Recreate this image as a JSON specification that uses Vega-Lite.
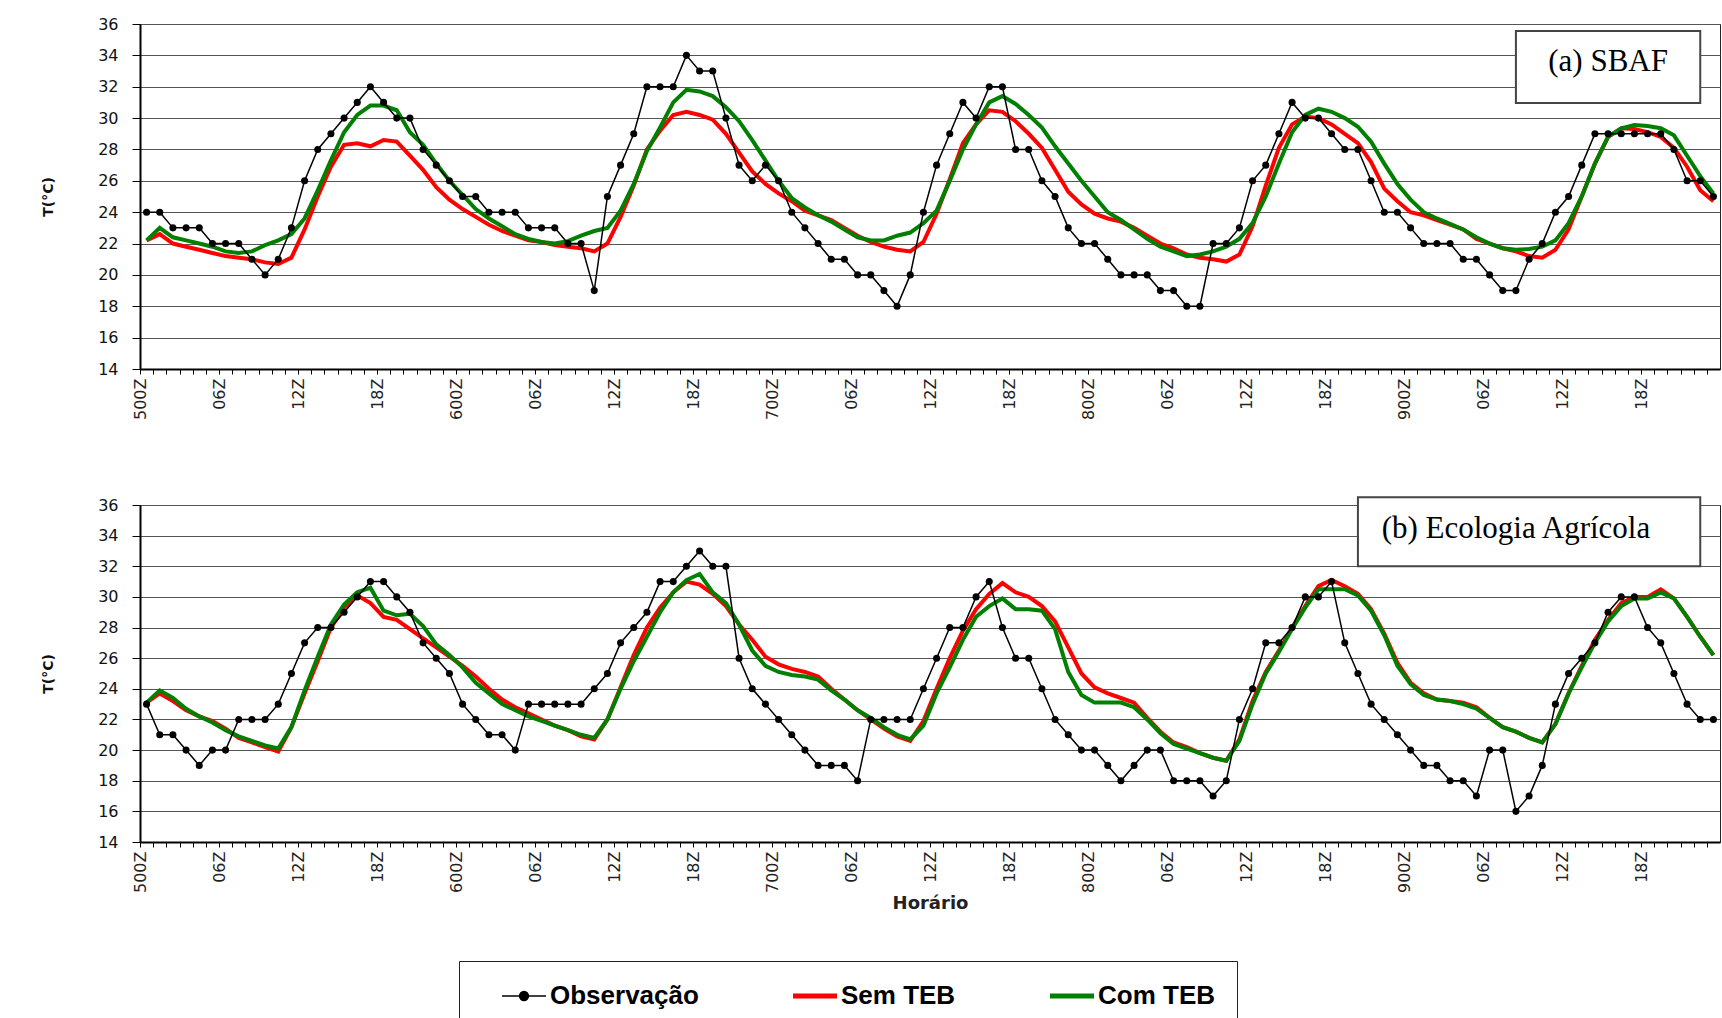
{
  "$schema": "https://vega.github.io/schema/vega-lite/v6.json",
  "background": "white",
  "autosize": {"type": "pad"},
  "padding": {"left": 41, "top": 15, "right": 2, "bottom": 0},
  "bounds": "flush",
  "spacing": 136,
  "datasets": {
    "a": [
      {"h":0,"obs":24,"sem":22.2,"com":22.2},{"h":1,"obs":24,"sem":22.6,"com":23.0},{"h":2,"obs":23,"sem":22.0,"com":22.4},{"h":3,"obs":23,"sem":21.8,"com":22.2},{"h":4,"obs":23,"sem":21.6,"com":22.0},
      {"h":5,"obs":22,"sem":21.4,"com":21.8},{"h":6,"obs":22,"sem":21.2,"com":21.5},{"h":7,"obs":22,"sem":21.1,"com":21.4},{"h":8,"obs":21,"sem":21.0,"com":21.5},{"h":9,"obs":20,"sem":20.8,"com":21.9},
      {"h":10,"obs":21,"sem":20.7,"com":22.2},{"h":11,"obs":23,"sem":21.1,"com":22.6},{"h":12,"obs":26,"sem":22.9,"com":23.6},{"h":13,"obs":28,"sem":25.0,"com":25.4},{"h":14,"obs":29,"sem":26.9,"com":27.3},
      {"h":15,"obs":30,"sem":28.3,"com":29.1},{"h":16,"obs":31,"sem":28.4,"com":30.2},{"h":17,"obs":32,"sem":28.2,"com":30.8},{"h":18,"obs":31,"sem":28.6,"com":30.8},{"h":19,"obs":30,"sem":28.5,"com":30.5},
      {"h":20,"obs":30,"sem":27.6,"com":29.1},{"h":21,"obs":28,"sem":26.7,"com":28.3},{"h":22,"obs":27,"sem":25.6,"com":27.1},{"h":23,"obs":26,"sem":24.8,"com":26.0},{"h":24,"obs":25,"sem":24.2,"com":25.1},
      {"h":25,"obs":25,"sem":23.7,"com":24.2},{"h":26,"obs":24,"sem":23.2,"com":23.6},{"h":27,"obs":24,"sem":22.8,"com":23.1},{"h":28,"obs":24,"sem":22.5,"com":22.6},{"h":29,"obs":23,"sem":22.2,"com":22.3},
      {"h":30,"obs":23,"sem":22.1,"com":22.1},{"h":31,"obs":23,"sem":21.9,"com":22.0},{"h":32,"obs":22,"sem":21.8,"com":22.15},{"h":33,"obs":22,"sem":21.7,"com":22.5},{"h":34,"obs":19,"sem":21.5,"com":22.8},
      {"h":35,"obs":25,"sem":22.0,"com":23.0},{"h":36,"obs":27,"sem":23.7,"com":24.1},{"h":37,"obs":29,"sem":25.7,"com":25.8},{"h":38,"obs":32,"sem":28.0,"com":27.9},{"h":39,"obs":32,"sem":29.2,"com":29.4},
      {"h":40,"obs":32,"sem":30.2,"com":31.0},{"h":41,"obs":34,"sem":30.4,"com":31.8},{"h":42,"obs":33,"sem":30.2,"com":31.7},{"h":43,"obs":33,"sem":29.9,"com":31.4},{"h":44,"obs":30,"sem":29.0,"com":30.7},
      {"h":45,"obs":27,"sem":27.8,"com":29.8},{"h":46,"obs":26,"sem":26.6,"com":28.6},{"h":47,"obs":27,"sem":25.8,"com":27.3},{"h":48,"obs":26,"sem":25.2,"com":26.0},{"h":49,"obs":24,"sem":24.7,"com":24.9},
      {"h":50,"obs":23,"sem":24.1,"com":24.3},{"h":51,"obs":22,"sem":23.8,"com":23.8},{"h":52,"obs":21,"sem":23.5,"com":23.4},{"h":53,"obs":21,"sem":23.0,"com":22.9},{"h":54,"obs":20,"sem":22.5,"com":22.4},
      {"h":55,"obs":20,"sem":22.1,"com":22.2},{"h":56,"obs":19,"sem":21.8,"com":22.2},{"h":57,"obs":18,"sem":21.6,"com":22.5},{"h":58,"obs":20,"sem":21.5,"com":22.7},{"h":59,"obs":24,"sem":22.1,"com":23.3},
      {"h":60,"obs":27,"sem":23.9,"com":24.1},{"h":61,"obs":29,"sem":26.1,"com":26.0},{"h":62,"obs":31,"sem":28.4,"com":28.0},{"h":63,"obs":30,"sem":29.6,"com":29.6},{"h":64,"obs":32,"sem":30.5,"com":31.0},
      {"h":65,"obs":32,"sem":30.4,"com":31.4},{"h":66,"obs":28,"sem":29.8,"com":30.9},{"h":67,"obs":28,"sem":29.0,"com":30.2},{"h":68,"obs":26,"sem":28.1,"com":29.4},{"h":69,"obs":25,"sem":26.7,"com":28.2},
      {"h":70,"obs":23,"sem":25.3,"com":27.1},{"h":71,"obs":22,"sem":24.5,"com":26.0},{"h":72,"obs":22,"sem":23.9,"com":25.0},{"h":73,"obs":21,"sem":23.6,"com":24.0},{"h":74,"obs":20,"sem":23.4,"com":23.5},
      {"h":75,"obs":20,"sem":23.0,"com":22.9},{"h":76,"obs":20,"sem":22.5,"com":22.3},{"h":77,"obs":19,"sem":22.0,"com":21.8},{"h":78,"obs":19,"sem":21.7,"com":21.5},{"h":79,"obs":18,"sem":21.3,"com":21.2},
      {"h":80,"obs":18,"sem":21.1,"com":21.3},{"h":81,"obs":22,"sem":21.0,"com":21.5},{"h":82,"obs":22,"sem":20.85,"com":21.8},{"h":83,"obs":23,"sem":21.3,"com":22.3},{"h":84,"obs":26,"sem":23.1,"com":23.3},
      {"h":85,"obs":27,"sem":25.7,"com":25.0},{"h":86,"obs":29,"sem":28.1,"com":27.1},{"h":87,"obs":31,"sem":29.6,"com":29.1},{"h":88,"obs":30,"sem":30.1,"com":30.2},{"h":89,"obs":30,"sem":30.0,"com":30.6},
      {"h":90,"obs":29,"sem":29.6,"com":30.4},{"h":91,"obs":28,"sem":29.0,"com":30.0},{"h":92,"obs":28,"sem":28.4,"com":29.45},{"h":93,"obs":26,"sem":27.2,"com":28.5},{"h":94,"obs":24,"sem":25.5,"com":27.1},
      {"h":95,"obs":24,"sem":24.7,"com":25.8},{"h":96,"obs":23,"sem":24.0,"com":24.8},{"h":97,"obs":22,"sem":23.8,"com":24.0},{"h":98,"obs":22,"sem":23.5,"com":23.6},{"h":99,"obs":22,"sem":23.2,"com":23.25},
      {"h":100,"obs":21,"sem":22.9,"com":22.9},{"h":101,"obs":21,"sem":22.3,"com":22.4},{"h":102,"obs":20,"sem":22.0,"com":22.0},{"h":103,"obs":19,"sem":21.7,"com":21.7},{"h":104,"obs":19,"sem":21.5,"com":21.6},
      {"h":105,"obs":21,"sem":21.2,"com":21.65},{"h":106,"obs":22,"sem":21.1,"com":21.8},{"h":107,"obs":24,"sem":21.6,"com":22.2},{"h":108,"obs":25,"sem":22.9,"com":23.3},{"h":109,"obs":27,"sem":25.0,"com":25.0},
      {"h":110,"obs":29,"sem":27.1,"com":27.1},{"h":111,"obs":29,"sem":28.8,"com":28.8},{"h":112,"obs":29,"sem":29.35,"com":29.35},{"h":113,"obs":29,"sem":29.3,"com":29.56},{"h":114,"obs":29,"sem":29.1,"com":29.5},
      {"h":115,"obs":29,"sem":28.8,"com":29.35},{"h":116,"obs":28,"sem":28.1,"com":28.9},{"h":117,"obs":26,"sem":26.9,"com":27.6},{"h":118,"obs":26,"sem":25.4,"com":26.3},{"h":119,"obs":25,"sem":24.7,"com":25.2}
    ],
    "b": [
      {"h":0,"obs":23,"sem":23.1,"com":23.1},{"h":1,"obs":21,"sem":23.7,"com":23.9},{"h":2,"obs":21,"sem":23.2,"com":23.4},{"h":3,"obs":20,"sem":22.6,"com":22.7},{"h":4,"obs":19,"sem":22.2,"com":22.2},
      {"h":5,"obs":20,"sem":21.9,"com":21.8},{"h":6,"obs":20,"sem":21.4,"com":21.3},{"h":7,"obs":22,"sem":20.8,"com":20.9},{"h":8,"obs":22,"sem":20.5,"com":20.6},{"h":9,"obs":22,"sem":20.2,"com":20.3},
      {"h":10,"obs":23,"sem":19.9,"com":20.1},{"h":11,"obs":25,"sem":21.5,"com":21.5},{"h":12,"obs":27,"sem":23.7,"com":23.9},{"h":13,"obs":28,"sem":25.8,"com":26.1},{"h":14,"obs":28,"sem":28.0,"com":28.2},
      {"h":15,"obs":29,"sem":29.3,"com":29.5},{"h":16,"obs":30,"sem":30.1,"com":30.3},{"h":17,"obs":31,"sem":29.6,"com":30.6},{"h":18,"obs":31,"sem":28.7,"com":29.1},{"h":19,"obs":30,"sem":28.5,"com":28.8},
      {"h":20,"obs":29,"sem":27.9,"com":28.9},{"h":21,"obs":27,"sem":27.3,"com":28.1},{"h":22,"obs":26,"sem":26.7,"com":26.9},{"h":23,"obs":25,"sem":26.1,"com":26.2},{"h":24,"obs":23,"sem":25.5,"com":25.4},
      {"h":25,"obs":22,"sem":24.8,"com":24.4},{"h":26,"obs":21,"sem":24.0,"com":23.7},{"h":27,"obs":21,"sem":23.3,"com":23.0},{"h":28,"obs":20,"sem":22.8,"com":22.6},{"h":29,"obs":23,"sem":22.4,"com":22.2},
      {"h":30,"obs":23,"sem":22.0,"com":21.9},{"h":31,"obs":23,"sem":21.6,"com":21.6},{"h":32,"obs":23,"sem":21.3,"com":21.3},{"h":33,"obs":23,"sem":20.9,"com":21.0},{"h":34,"obs":24,"sem":20.7,"com":20.8},
      {"h":35,"obs":25,"sem":22.0,"com":22.0},{"h":36,"obs":27,"sem":24.1,"com":24.0},{"h":37,"obs":28,"sem":26.2,"com":25.8},{"h":38,"obs":29,"sem":28.0,"com":27.4},{"h":39,"obs":31,"sem":29.3,"com":29.0},
      {"h":40,"obs":31,"sem":30.3,"com":30.3},{"h":41,"obs":32,"sem":31.0,"com":31.1},{"h":42,"obs":33,"sem":30.8,"com":31.5},{"h":43,"obs":32,"sem":30.2,"com":30.3},{"h":44,"obs":32,"sem":29.4,"com":29.6},
      {"h":45,"obs":26,"sem":28.2,"com":28.2},{"h":46,"obs":24,"sem":27.2,"com":26.5},{"h":47,"obs":23,"sem":26.1,"com":25.5},{"h":48,"obs":22,"sem":25.6,"com":25.1},{"h":49,"obs":21,"sem":25.3,"com":24.9},
      {"h":50,"obs":20,"sem":25.1,"com":24.8},{"h":51,"obs":19,"sem":24.8,"com":24.6},{"h":52,"obs":19,"sem":24.0,"com":23.9},{"h":53,"obs":19,"sem":23.3,"com":23.3},{"h":54,"obs":18,"sem":22.6,"com":22.6},
      {"h":55,"obs":22,"sem":22.0,"com":22.1},{"h":56,"obs":22,"sem":21.4,"com":21.5},{"h":57,"obs":22,"sem":20.9,"com":21.0},{"h":58,"obs":22,"sem":20.6,"com":20.7},{"h":59,"obs":24,"sem":21.9,"com":21.6},
      {"h":60,"obs":26,"sem":24.0,"com":23.7},{"h":61,"obs":28,"sem":26.0,"com":25.4},{"h":62,"obs":28,"sem":27.8,"com":27.2},{"h":63,"obs":30,"sem":29.2,"com":28.7},{"h":64,"obs":31,"sem":30.2,"com":29.4},
      {"h":65,"obs":28,"sem":30.9,"com":29.9},{"h":66,"obs":26,"sem":30.3,"com":29.2},{"h":67,"obs":26,"sem":30.0,"com":29.2},{"h":68,"obs":24,"sem":29.4,"com":29.1},{"h":69,"obs":22,"sem":28.4,"com":27.9},
      {"h":70,"obs":21,"sem":26.7,"com":25.1},{"h":71,"obs":20,"sem":25.0,"com":23.6},{"h":72,"obs":20,"sem":24.1,"com":23.1},{"h":73,"obs":19,"sem":23.7,"com":23.1},{"h":74,"obs":18,"sem":23.4,"com":23.1},
      {"h":75,"obs":19,"sem":23.1,"com":22.8},{"h":76,"obs":20,"sem":22.1,"com":22.0},{"h":77,"obs":20,"sem":21.2,"com":21.1},{"h":78,"obs":18,"sem":20.5,"com":20.4},{"h":79,"obs":18,"sem":20.2,"com":20.1},
      {"h":80,"obs":18,"sem":19.8,"com":19.8},{"h":81,"obs":17,"sem":19.5,"com":19.5},{"h":82,"obs":18,"sem":19.3,"com":19.3},{"h":83,"obs":22,"sem":20.7,"com":20.6},{"h":84,"obs":24,"sem":23.2,"com":23.0},
      {"h":85,"obs":27,"sem":25.1,"com":25.0},{"h":86,"obs":27,"sem":26.5,"com":26.4},{"h":87,"obs":28,"sem":28.0,"com":27.9},{"h":88,"obs":30,"sem":29.4,"com":29.3},{"h":89,"obs":30,"sem":30.7,"com":30.5},
      {"h":90,"obs":31,"sem":31.1,"com":30.5},{"h":91,"obs":27,"sem":30.7,"com":30.5},{"h":92,"obs":25,"sem":30.2,"com":30.1},{"h":93,"obs":23,"sem":29.2,"com":29.1},{"h":94,"obs":22,"sem":27.6,"com":27.5},
      {"h":95,"obs":21,"sem":25.7,"com":25.5},{"h":96,"obs":20,"sem":24.4,"com":24.3},{"h":97,"obs":19,"sem":23.7,"com":23.6},{"h":98,"obs":19,"sem":23.3,"com":23.3},{"h":99,"obs":18,"sem":23.2,"com":23.2},
      {"h":100,"obs":18,"sem":23.1,"com":23.0},{"h":101,"obs":17,"sem":22.8,"com":22.7},{"h":102,"obs":20,"sem":22.1,"com":22.1},{"h":103,"obs":20,"sem":21.5,"com":21.5},{"h":104,"obs":16,"sem":21.2,"com":21.2},
      {"h":105,"obs":17,"sem":20.8,"com":20.8},{"h":106,"obs":19,"sem":20.5,"com":20.5},{"h":107,"obs":23,"sem":21.7,"com":21.7},{"h":108,"obs":25,"sem":23.7,"com":23.7},{"h":109,"obs":26,"sem":25.5,"com":25.4},
      {"h":110,"obs":27,"sem":27.2,"com":27.0},{"h":111,"obs":29,"sem":28.5,"com":28.4},{"h":112,"obs":30,"sem":29.6,"com":29.4},{"h":113,"obs":30,"sem":30.0,"com":29.9},{"h":114,"obs":28,"sem":30.0,"com":29.9},
      {"h":115,"obs":27,"sem":30.5,"com":30.3},{"h":116,"obs":25,"sem":29.9,"com":29.9},{"h":117,"obs":23,"sem":28.7,"com":28.7},{"h":118,"obs":22,"sem":27.4,"com":27.4},{"h":119,"obs":22,"sem":26.2,"com":26.2}
    ]
  },
  "config": {
    "view": {"stroke": "#222", "strokeWidth": 1},
    "axisX": {"labelAngle": 270, "labelOverlap": false, "labelBound": false, "tickSize": 5, "tickColor": "#000", "tickWidth": 1, "domainColor": "#000", "domainWidth": 2, "labelFont": "DejaVu Sans", "labelFontSize": 16, "labelColor": "#222", "labelPadding": 4, "grid": false, "titleFont": "DejaVu Sans", "titleFontSize": 18, "titleFontWeight": "bold", "titleColor": "#222", "titlePadding": 2},
    "axisY": {"grid": true, "gridColor": "#555", "gridWidth": 1, "tickSize": 8, "tickColor": "#000", "domainColor": "#000", "domainWidth": 2, "labelOverlap": false, "labelFont": "DejaVu Sans", "labelFontSize": 16, "labelColor": "#111", "labelPadding": 14, "titleFont": "DejaVu Sans", "titleFontSize": 14, "titleFontWeight": "bold", "titleColor": "#111", "titlePadding": 42}
  },
  "resolve": {"scale": {"color": "shared"}, "legend": {"color": "shared"}},
  "vconcat": [
    {
      "width": 1580, "height": 345,
      "data": {"name": "a"},
      "encoding": {
        "x": {"field": "h", "type": "ordinal", "title": null, "scale": {"type": "point", "padding": 0.5},
              "axis": {"tickOffset": -6.583, "labelExpr": "datum.value % 24 == 0 ? (5 + datum.value / 24) + '00Z' : (datum.value % 6 == 0 ? ((datum.value % 24) < 10 ? '0' : '') + (datum.value % 24) + 'Z' : '')"}}
      },
      "layer": [
        {"mark": {"type": "line", "strokeWidth": 4},
         "encoding": {
           "y": {"field": "sem", "type": "quantitative", "title": "T(°C)", "scale": {"domain": [14, 36], "nice": false, "zero": false}, "axis": {"values": [14,16,18,20,22,24,26,28,30,32,34,36]}},
           "color": {"datum": "sem", "type": "nominal",
             "scale": {"domain": ["obs", "sem", "com"], "range": ["#000000", "#ff0000", "#008000"]},
             "legend": {
               "orient": "none", "legendX": 319, "legendY": 937, "direction": "horizontal", "columns": 3,
               "title": "\u00a0", "titleOrient": "left", "titlePadding": 30, "titleFontSize": 8,
               "strokeColor": "#222", "fillColor": "white", "padding": 22,
               "symbolType": "stroke", "symbolSize": 1936, "symbolStrokeWidth": 5,
               "labelFont": "Liberation Sans", "labelFontSize": 26, "labelFontWeight": "bold", "labelColor": "#000",
               "labelOffset": 13, "columnPadding": 84, "labelLimit": 400,
               "labelExpr": "datum.label == 'obs' ? 'Observação' : (datum.label == 'sem' ? 'Sem TEB' : 'Com TEB')",
               "encode": {"symbols": {"update": {
                 "shape": {"signal": "datum.value === 'obs' ? 'M-1,0H1M-0.2,0A0.2,0.2,0,1,1,0.2,0A0.2,0.2,0,1,1,-0.2,0Z' : 'stroke'"},
                 "strokeWidth": {"signal": "datum.value === 'obs' ? 1.5 : 5"},
                 "fill": {"signal": "datum.value === 'obs' ? '#000000' : 'transparent'"},
                 "stroke": {"signal": "datum.value === 'obs' ? '#000000' : (datum.value === 'sem' ? '#ff0000' : '#008000')"},
                 "opacity": {"value": 1}
               }}}
             }}
         }},
        {"mark": {"type": "line", "strokeWidth": 4},
         "encoding": {
           "y": {"field": "com", "type": "quantitative", "title": "T(°C)", "axis": {"values": [14,16,18,20,22,24,26,28,30,32,34,36]}},
           "color": {"datum": "com", "type": "nominal"}
         }},
        {"mark": {"type": "line", "strokeWidth": 1.5},
         "encoding": {
           "y": {"field": "obs", "type": "quantitative", "title": "T(°C)", "axis": {"values": [14,16,18,20,22,24,26,28,30,32,34,36]}},
           "color": {"datum": "obs", "type": "nominal"}
         }},
        {"mark": {"type": "point", "filled": true, "size": 50, "opacity": 1},
         "encoding": {
           "y": {"field": "obs", "type": "quantitative", "title": "T(°C)", "axis": {"values": [14,16,18,20,22,24,26,28,30,32,34,36]}},
           "color": {"datum": "obs", "type": "nominal"}
         }},
        {"data": {"values": [{"label": "(a) SBAF"}]},
         "mark": {"type": "rect", "fill": "white", "stroke": "#444", "strokeWidth": 2},
         "encoding": {
           "x": {"datum": 104, "type": "ordinal", "title": null}, "x2": {"datum": 118},
           "y": {"datum": 35.55, "type": "quantitative", "title": "T(°C)", "axis": {"values": [14,16,18,20,22,24,26,28,30,32,34,36]}}, "y2": {"datum": 30.96}
         }},
        {"data": {"values": [{"label": "(a) SBAF"}]},
         "mark": {"type": "text", "font": "Liberation Serif", "fontSize": 31, "align": "center", "baseline": "middle", "color": "#000"},
         "encoding": {
           "x": {"datum": 111, "type": "ordinal", "title": null},
           "y": {"datum": 33.58, "type": "quantitative", "title": "T(°C)", "axis": {"values": [14,16,18,20,22,24,26,28,30,32,34,36]}},
           "text": {"field": "label"}
         }}
      ]
    },
    {
      "width": 1580, "height": 337,
      "data": {"name": "b"},
      "encoding": {
        "x": {"field": "h", "type": "ordinal", "title": "Horário", "scale": {"type": "point", "padding": 0.5},
              "axis": {"tickOffset": -6.583, "labelExpr": "datum.value % 24 == 0 ? (5 + datum.value / 24) + '00Z' : (datum.value % 6 == 0 ? ((datum.value % 24) < 10 ? '0' : '') + (datum.value % 24) + 'Z' : '')"}}
      },
      "layer": [
        {"mark": {"type": "line", "strokeWidth": 4},
         "encoding": {
           "y": {"field": "sem", "type": "quantitative", "title": "T(°C)", "scale": {"domain": [14, 36], "nice": false, "zero": false}, "axis": {"values": [14,16,18,20,22,24,26,28,30,32,34,36]}},
           "color": {"datum": "sem", "type": "nominal"}
         }},
        {"mark": {"type": "line", "strokeWidth": 4},
         "encoding": {
           "y": {"field": "com", "type": "quantitative", "title": "T(°C)", "axis": {"values": [14,16,18,20,22,24,26,28,30,32,34,36]}},
           "color": {"datum": "com", "type": "nominal"}
         }},
        {"mark": {"type": "line", "strokeWidth": 1.5},
         "encoding": {
           "y": {"field": "obs", "type": "quantitative", "title": "T(°C)", "axis": {"values": [14,16,18,20,22,24,26,28,30,32,34,36]}},
           "color": {"datum": "obs", "type": "nominal"}
         }},
        {"mark": {"type": "point", "filled": true, "size": 50, "opacity": 1},
         "encoding": {
           "y": {"field": "obs", "type": "quantitative", "title": "T(°C)", "axis": {"values": [14,16,18,20,22,24,26,28,30,32,34,36]}},
           "color": {"datum": "obs", "type": "nominal"}
         }},
        {"data": {"values": [{"label": "(b) Ecologia Agrícola"}]},
         "mark": {"type": "rect", "fill": "white", "stroke": "#444", "strokeWidth": 2},
         "encoding": {
           "x": {"datum": 92, "type": "ordinal", "title": "Horário"}, "x2": {"datum": 118},
           "y": {"datum": 36.5, "type": "quantitative", "title": "T(°C)", "axis": {"values": [14,16,18,20,22,24,26,28,30,32,34,36]}}, "y2": {"datum": 32.0}
         }},
        {"data": {"values": [{"label": "(b) Ecologia Agrícola"}]},
         "mark": {"type": "text", "font": "Liberation Serif", "fontSize": 31, "align": "center", "baseline": "middle", "color": "#000"},
         "encoding": {
           "x": {"datum": 104, "type": "ordinal", "title": "Horário"},
           "y": {"datum": 34.43, "type": "quantitative", "title": "T(°C)", "axis": {"values": [14,16,18,20,22,24,26,28,30,32,34,36]}},
           "text": {"field": "label"}
         }}
      ]
    }
  ]
}
